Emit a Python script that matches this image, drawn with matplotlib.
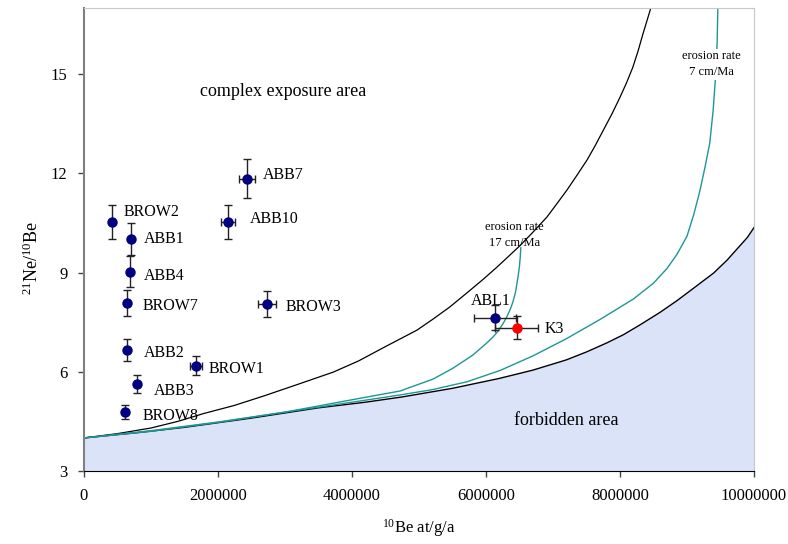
import numpy as np
import matplotlib
matplotlib.use('Agg')
import matplotlib.pyplot as plt

plt.rcParams['font.family'] = ['Liberation Serif', 'DejaVu Serif']
plt.rcParams['mathtext.fontset'] = 'custom'
plt.rcParams['mathtext.rm'] = 'Liberation Serif'
plt.rcParams['mathtext.it'] = 'Liberation Serif:italic'

# samples: 10Be (at/g/a), 21Ne/10Be and errors
names = ['BROW2', 'ABB1', 'ABB4', 'BROW7', 'ABB2', 'BROW1', 'ABB3', 'BROW8',
         'ABB7', 'ABB10', 'BROW3', 'ABL1']
be10 = [418000, 700000, 690000, 640000, 640000, 1670000, 790000, 610000,
        2430000, 2150000, 2730000, 6130000]
ratio = [10.53, 10.02, 9.02, 8.08, 6.66, 6.18, 5.63, 4.78,
         11.83, 10.53, 8.05, 7.63]
be10_err = [0, 0, 0, 0, 0, 85000, 0, 0, 122000, 100000, 137000, 313000]
ratio_err = [0.51, 0.49, 0.47, 0.39, 0.33, 0.29, 0.28, 0.21,
             0.59, 0.52, 0.40, 0.38]

k3_name = 'K3'
k3_be10 = [6460000]
k3_ratio = [7.33]
k3_be10_err = [320000]
k3_ratio_err = [0.35]

# curves (10Be in millions)
upper_x = [0, 0.5, 1.0, 1.4, 1.79, 2.24, 2.7, 3.22, 3.72, 4.1, 4.46, 4.97, 5.2,
           5.46, 5.7, 5.96, 6.15, 6.31, 6.51, 6.7, 6.91, 7.05, 7.21, 7.36, 7.51,
           7.63, 7.75, 7.88, 8.0, 8.1, 8.19, 8.27, 8.34, 8.4, 8.46]
upper_y = [4.0, 4.13, 4.30, 4.50, 4.74, 4.98, 5.28, 5.64, 5.99, 6.33, 6.72, 7.26,
           7.58, 7.96, 8.36, 8.8, 9.14, 9.44, 9.82, 10.22, 10.68, 11.06, 11.5,
           11.95, 12.41, 12.84, 13.3, 13.8, 14.3, 14.75, 15.2, 15.7, 16.2, 16.6, 17.0]

lower_x = [0, 0.8, 1.5, 2.5, 3.5, 4.2, 4.75, 5.5, 6.2, 6.7, 7.2, 7.5, 7.8, 8.05,
           8.3, 8.6, 8.85, 9.1, 9.4, 9.6, 9.75, 9.9, 10.0]
lower_y = [4.0, 4.16, 4.32, 4.60, 4.91, 5.08, 5.24, 5.5, 5.8, 6.05, 6.36, 6.6,
           6.87, 7.12, 7.42, 7.8, 8.15, 8.53, 8.99, 9.38, 9.72, 10.06, 10.36]

er17_x = [0, 1.0, 2.0, 3.0, 4.07, 4.72, 5.21, 5.5, 5.8, 6.0, 6.1, 6.18, 6.25, 6.31,
          6.36, 6.4, 6.44, 6.46, 6.48, 6.5, 6.51, 6.52]
er17_y = [4.0, 4.2, 4.47, 4.78, 5.18, 5.42, 5.78, 6.1, 6.5, 6.85, 7.04, 7.23, 7.44,
          7.66, 7.88, 8.1, 8.4, 8.65, 8.9, 9.2, 9.45, 9.75]

er7_x = [0, 1.0, 2.0, 3.0, 4.0, 4.72, 5.2, 5.72, 6.21, 6.7, 7.2, 7.7, 8.2, 8.5,
         8.7, 8.85, 9.0, 9.1, 9.19, 9.27, 9.34, 9.39, 9.42, 9.45, 9.46]
er7_y = [4.0, 4.22, 4.48, 4.78, 5.08, 5.3, 5.46, 5.7, 6.04, 6.48, 7.0, 7.58, 8.2,
         8.68, 9.12, 9.55, 10.1, 10.75, 11.45, 12.2, 12.92, 13.9, 14.74, 15.95, 17.0]

x_ticks = [0, 2000000, 4000000, 6000000, 8000000, 10000000]
y_ticks = [3, 6, 9, 12, 15]

# label offsets in points (dx, dy)
offsets = [(8, 7), (9, 0), (9.5, -3), (11.5, -2), (12, -2), (9, -2), (12, -5),
           (13, -3), (11.5, 3), (16, 2), (13.5, -2), (-17, 12)]
k3_offset = (20, -1)

fig = plt.figure(figsize=(7.88, 5.44), dpi=100)
ax = fig.add_axes([84 / 788, 1 - 471 / 544, 670 / 788, 463 / 544])

lx = np.array(lower_x) * 1e6
ax.fill_between(lx, 3, lower_y, color='#dae3f7', zorder=1, lw=0)
ax.plot(lx, lower_y, color='black', lw=1, zorder=2)
ax.plot(np.array(upper_x) * 1e6, upper_y, color='black', lw=0.9, zorder=2)
ax.plot(np.array(er17_x) * 1e6, er17_y, color='#1f9595', lw=1, zorder=2)
ax.plot(np.array(er7_x) * 1e6, er7_y, color='#1f9595', lw=1, zorder=2)

ax.errorbar(be10, ratio, xerr=be10_err, yerr=ratio_err, fmt='o', color='#000080',
            ms=6.5, ecolor='#222222', elinewidth=1, capsize=3, capthick=1, zorder=4)
ax.errorbar(k3_be10, k3_ratio, xerr=k3_be10_err, yerr=k3_ratio_err, fmt='o',
            color='#ff0000', ms=6.5, ecolor='#222222', elinewidth=1, capsize=3,
            capthick=1, zorder=4)

for n, x, y, off in zip(names, be10, ratio, offsets):
    ax.annotate(n, (x, y), xytext=off, textcoords='offset points',
                ha='left', va='center', fontsize=11.5, zorder=5)
ax.annotate(k3_name, (k3_be10[0], k3_ratio[0]), xytext=k3_offset,
            textcoords='offset points', ha='left', va='center', fontsize=11.5, zorder=5)

ax.text(2970000, 14.49, 'complex exposure area', ha='center', va='center', fontsize=13)
ax.text(7200000, 4.54, 'forbidden area', ha='center', va='center', fontsize=13)
ax.text(6420000, 10.14, 'erosion rate\n17 cm/Ma', ha='center', va='center',
        fontsize=9, linespacing=1.5, zorder=5)
ax.text(9370000, 15.3, 'erosion rate\n7 cm/Ma', ha='center', va='center',
        fontsize=9, linespacing=1.5, zorder=5,
        bbox=dict(facecolor='white', edgecolor='none', pad=1))

ax.set_xlim(0, 10000000)
ax.set_ylim(3, 17)
ax.set_xticks(x_ticks)
ax.set_xticklabels([str(t) for t in x_ticks])
ax.set_yticks(y_ticks)
ax.tick_params(labelsize=12, length=4, width=1, color='#444444', pad=8)

for s in ['top', 'right']:
    ax.spines[s].set_color('#c8c8c8')
ax.spines['left'].set_color('#808080')
ax.spines['left'].set_linewidth(1.5)
ax.spines['bottom'].set_color('black')

ax.set_xlabel(r'$^{10}$Be at/g/a', fontsize=12, labelpad=10)
ax.set_ylabel(r'$^{21}$Ne/$^{10}$Be', fontsize=13)
ax.yaxis.set_label_coords(-0.063, 0.46)

fig.savefig('out.png', dpi=100)
